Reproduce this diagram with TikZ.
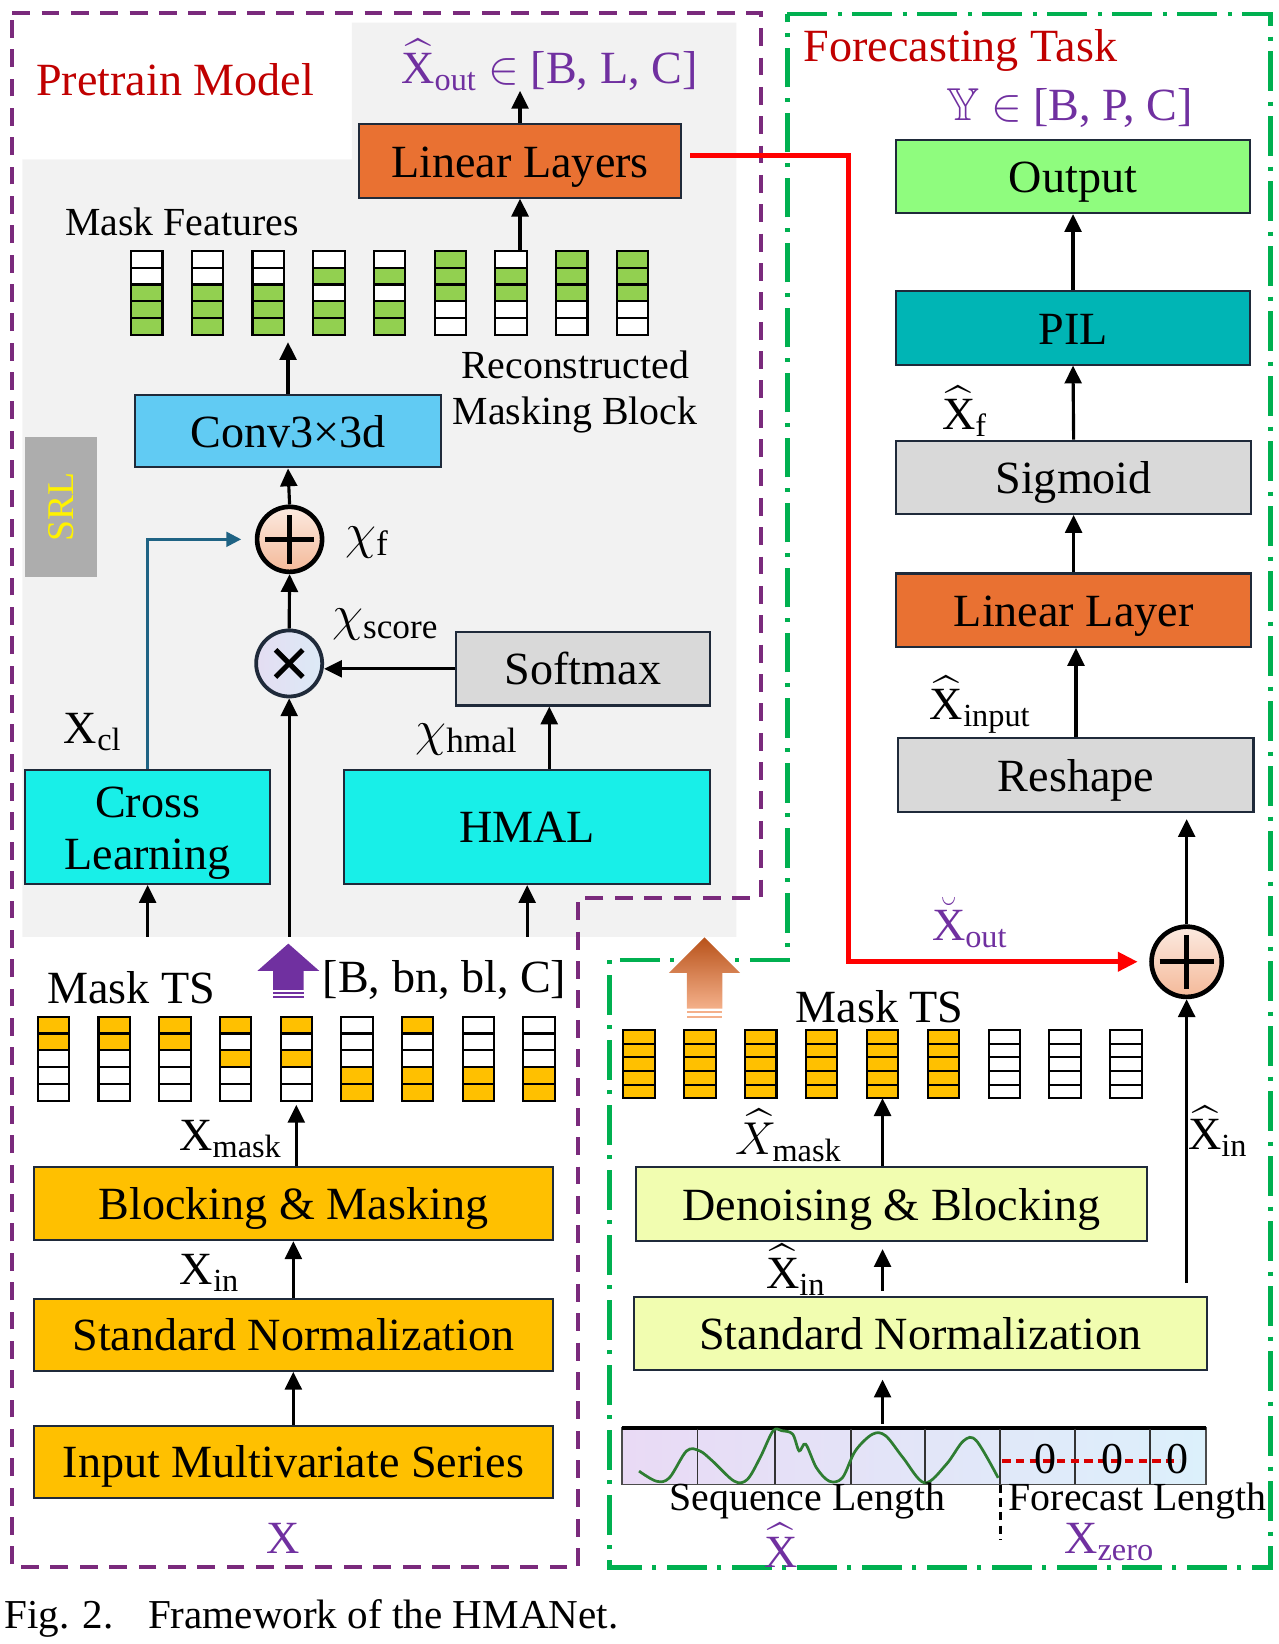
\RequirePackage{fix-cm}
\documentclass[tikz,border=0pt]{standalone}
\usepackage{fontspec}
\setmainfont{Liberation Serif}
\usepackage{amssymb}
\usetikzlibrary{arrows.meta,positioning,calc}

\definecolor{frame}{HTML}{1F2A3A}
\definecolor{mpurple}{HTML}{7030A0}
\definecolor{dashpurple}{HTML}{7A2A7C}
\definecolor{dashgreen}{HTML}{00B050}
\definecolor{titlered}{HTML}{C00000}
\definecolor{orangebox}{HTML}{E97132}
\definecolor{yellowbox}{HTML}{FFC000}
\definecolor{lightyellow}{HTML}{F1FDB0}
\definecolor{cyanbox}{HTML}{18EFE8}
\definecolor{bluebox}{HTML}{61CBF3}
\definecolor{graybox}{HTML}{D9D9D9}
\definecolor{tealbox}{HTML}{00B5B5}
\definecolor{greenbox}{HTML}{8FFC7E}
\definecolor{bggray}{HTML}{F2F2F2}
\definecolor{srlgray}{HTML}{ADADAD}
\definecolor{cellg}{HTML}{92D050}
\definecolor{celly}{HTML}{FFC000}
\definecolor{cellw}{HTML}{FFFFFF}
\definecolor{clline}{HTML}{1F6384}
\definecolor{wavegreen}{HTML}{2E7D32}
\definecolor{peach}{HTML}{F4B999}
\definecolor{lilac}{HTML}{E4DDF2}
\definecolor{paleblue}{HTML}{DCEAF6}
\definecolor{striplilac}{HTML}{E9DAF5}
\definecolor{stripblue}{HTML}{DCF0FB}
\definecolor{arrowdark}{HTML}{B8521A}
\definecolor{arrowlight}{HTML}{F4B08A}

\begin{document}
\begin{tikzpicture}[x=0.5pt, y=-0.5pt,
    blkbase/.style={draw=frame, line width=1pt, minimum height=35pt, inner sep=0pt,
      font=\fontsize{22}{25}\selectfont},
    blk/.style={blkbase, text height=19.8pt, text depth=4.4pt},
    lbl/.style={inner sep=0pt, font=\fontsize{22}{25}\selectfont},
    chilbl/.style={inner sep=0pt, font=\fontsize{24}{26}\selectfont},
    smalltxt/.style={inner sep=0pt, font=\fontsize{19}{22}\selectfont},
    arr/.style={line width=1.5pt, -{Triangle[length=8.5pt,width=8pt]}},
    redarr/.style={draw=red, line width=2.2pt, -{Triangle[length=9.5pt,width=9pt]}},
    clarr/.style={draw=clline, line width=1.2pt, -{Triangle[length=7pt,width=7pt]}},
    fcol/.style={draw=black, line width=1pt, minimum width=15pt, inner sep=0pt, outer sep=0pt},
    cell/.style={draw=black, line width=1pt},
    op/.style={circle, line width=2.2pt, inner sep=0pt},
    opline/.style={line width=2.4pt, shorten <=5pt, shorten >=5pt}
  ]
  \useasboundingbox (0,0) rectangle (1219,1568);

  % gray background of the masking block
  \fill[bggray] (335.6,21.6) -- (702.4,21.6) -- (702.4,893.5) -- (21.4,893.5)
    -- (21.4,152) -- (335.6,152) -- cycle;
  \coordinate (gbot) at (0,893.5);
  \node[fill=srlgray, rotate=90, minimum width=66.5pt, minimum height=34.5pt, inner sep=0pt,
    text=yellow, font=\fontsize{18}{20}\selectfont] (srl) at (58,483.7) {SRL};

  % frames
  \draw[dashpurple, line width=2pt, dash pattern=on 8.5pt off 5.5pt]
    (11.7,12.7) -- (725.5,12.7) -- (725.5,856.8) -- (551.2,856.8) -- (551.2,1494.5)
    -- (11.7,1494.5) -- cycle;
  \draw[dashgreen, line width=2.2pt, dash pattern=on 19pt off 5pt on 2pt off 5pt]
    (751,13.4) -- (1211.5,13.4) -- (1211.5,1495.3) -- (581.4,1495.3) -- (581.4,915.7)
    -- (751,915.7) -- cycle;

  \node[lbl, text=titlered] (ptm) at (167,76.3) {Pretrain Model};
  \node[lbl, text=titlered] (fct) at (916,47.7) {Forecasting Task};

  % pretrain model
  \node[lbl, text=mpurple] (xout) at (524,62) {$\widehat{\mathrm{X}}_{\mathrm{out}}$ $\in$ [B, L, C]};
  \node[blk, fill=orangebox, minimum width=153.4pt] (linl) at (496,153.5) {Linear Layers};
  \node[smalltxt] (mft) at (173.5,212) {Mask Features};
  \foreach \i/\ua/\ub/\uc/\ud/\ue in {1/w/w/g/g/g, 2/w/w/g/g/g, 3/w/w/g/g/g, 4/w/g/w/g/g,
      5/w/g/w/g/g, 6/g/g/g/w/w, 7/w/g/g/w/w, 8/g/g/g/w/w, 9/g/g/g/w/w}{
    \pgfmathsetmacro\cx{140+57.9*(\i-1)}
    \foreach \p [count=\k] in {\ua,\ub,\uc,\ud,\ue}
      \draw[cell, fill=cell\p] (\cx-15,{239.3+16*(\k-1)}) rectangle ++(30,16);
    \node[fcol, minimum height=40pt] (mf\i) at (\cx,279.3) {};
  }
  \node[smalltxt, align=center] (rmb) at (548.5,374) {Reconstructed\\Masking Block};
  \node[blk, fill=bluebox, minimum width=146.2pt, minimum height=34.5pt] (conv) at (274.7,411.3) {Conv3×3d};

  \node[op, draw=black, minimum size=31pt, top color=peach!30, bottom color=peach] (plusl) at (276.2,514.4) {};
  \draw[opline] (plusl.north) -- (plusl.south);
  \draw[opline] (plusl.west) -- (plusl.east);
  \node[chilbl] (chif) at (350,517) {$\chi_{\mathrm{f}}$};

  \node[op, draw=frame, line width=1.8pt, minimum size=31.5pt, left color=lilac, right color=paleblue] (times) at (275.8,632.8) {};
  \draw[line width=2.4pt] ([shift={(-6.5pt,-6.5pt)}]times.center) -- ([shift={(6.5pt,6.5pt)}]times.center);
  \draw[line width=2.4pt] ([shift={(-6.5pt,6.5pt)}]times.center) -- ([shift={(6.5pt,-6.5pt)}]times.center);
  \node[chilbl] (chis) at (367.5,596) {$\chi_{\mathrm{score}}$};

  \node[blk, fill=graybox, minimum width=121.4pt] (soft) at (556,637.9) {Softmax};
  \node[chilbl] (chih) at (445,705) {$\chi_{\mathrm{hmal}}$};
  \node[blk, fill=cyanbox, minimum width=174.5pt, minimum height=54.5pt] (hmal) at (502.8,788.6) {HMAL};
  \node[blkbase, fill=cyanbox, minimum width=116.8pt, minimum height=54.5pt] (cl) at (140.8,788.6) {};
  \node[inner sep=0pt, align=center, font=\fontsize{22}{25}\selectfont] (cltxt) at ([yshift=-3pt]cl.center) {Cross\\Learning};
  \node[lbl] (xcl) at (88.5,698) {$\mathrm{X}_{\mathrm{cl}}$};

  \draw[arr] (linl.north) -- (linl.north |- xout.south);
  \draw[arr] (linl.south |- mf7.north) -- (linl.south);
  \draw[arr, shorten >=3.5pt] (conv.north) -- (conv.north |- mf3.south);
  \draw[arr] (plusl.north) -- (conv.south);
  \draw[arr] (times.north) -- (plusl.south);
  \draw[arr] (soft.west) -- (soft.west -| times.east);
  \draw[arr] ($(hmal.north west)!0.56!(hmal.north east)$) coordinate (hup) -- (hup |- soft.south);
  \draw[clarr, shorten >=6.5pt] (cl.north) |- (plusl.west);
  \draw[arr] (cl.south |- gbot) -- (cl.south);
  \draw[arr] (times.south |- gbot) -- (times.south);
  \draw[arr] (hmal.south |- gbot) -- (hmal.south);

  % block arrows
  \fill[mpurple] (275,900) -- (304.5,926) -- (289.5,926) -- (289.5,944) -- (260.5,944)
    -- (260.5,926) -- (245.5,926) -- cycle;
  \fill[mpurple] (260.5,946.3) rectangle (289.5,948.3);
  \fill[mpurple] (260.5,950) rectangle (289.5,952);
  \shade[top color=arrowdark, bottom color=arrowlight] (672,894) -- (706,928) -- (689,928)
    -- (689,962) -- (655,962) -- (655,928) -- (638,928) -- cycle;
  \fill[arrowlight] (655,964.5) rectangle (689,966.5);
  \fill[arrowlight] (655,969) rectangle (689,971);

  % masking input
  \node[lbl] (mtsl) at (125,942) {Mask TS};
  \node[lbl] (dims) at (424,935) {[B, bn, bl, C]};
  \foreach \i/\ua/\ub/\uc/\ud/\ue in {1/y/y/w/w/w, 2/y/y/w/w/w, 3/y/y/w/w/w, 4/y/w/y/w/w,
      5/y/w/y/w/w, 6/w/w/w/y/y, 7/y/w/w/y/y, 8/w/w/w/y/y, 9/w/w/w/y/y}{
    \pgfmathsetmacro\cx{51+57.9*(\i-1)}
    \foreach \p [count=\k] in {\ua,\ub,\uc,\ud,\ue}
      \draw[cell, fill=cell\p] (\cx-15,{969.7+16*(\k-1)}) rectangle ++(30,16);
    \node[fcol, minimum height=40pt] (ml\i) at (\cx,1009.7) {};
  }
  \node[lbl] (xmask) at (220,1086) {$\mathrm{X}_{\mathrm{mask}}$};
  \node[blk, fill=yellowbox, minimum width=247.7pt] (bm) at (279.8,1147.8) {Blocking \& Masking};
  \node[lbl] (xin) at (200,1214) {$\mathrm{X}_{\mathrm{in}}$};
  \node[blk, fill=yellowbox, minimum width=247.7pt, minimum height=34.4pt] (sn) at (279.8,1273) {Standard Normalization};
  \node[blk, fill=yellowbox, minimum width=247.7pt, minimum height=34.4pt] (ims) at (279.8,1394.2) {Input Multivariate Series};
  \node[lbl, text=mpurple] (xx) at (270,1467) {X};

  \draw[arr, shorten >=2pt] (ml5 |- bm.north) -- (ml5.south);
  \draw[arr] (sn.north) -- (bm.south);
  \draw[arr] (ims.north) -- (sn.south);

  % forecasting task
  \node[lbl, text=mpurple] (yout) at (1020,103) {$\mathbb{Y}$ $\in$ [B, P, C]};
  \node[blk, fill=greenbox, minimum width=169.2pt] (outb) at (1023.4,168.2) {Output};
  \node[blk, fill=tealbox, minimum width=169.2pt] (pil) at (1023.4,312.7) {PIL};
  \node[lbl] (xf) at (920,392) {$\widehat{\mathrm{X}}_{\mathrm{f}}$};
  \node[blk, fill=graybox, minimum width=169.4pt] (sig) at (1024,455.2) {Sigmoid};
  \node[blk, fill=orangebox, minimum width=169.4pt] (lin) at (1024,582) {Linear Layer};
  \node[lbl] (xinput) at (935,672) {$\widehat{\mathrm{X}}_{\mathrm{input}}$};
  \node[blk, fill=graybox, minimum width=169.3pt] (resh) at (1026.2,739.2) {Reshape};
  \node[lbl, text=mpurple] (xbout) at (925,880) {$\breve{\mathrm{X}}_{\mathrm{out}}$};
  \node[op, draw=black, minimum size=33.5pt, top color=peach!30, bottom color=peach] (plusr) at (1131.8,917.3) {};
  \draw[opline] (plusr.north) -- (plusr.south);
  \draw[opline] (plusr.west) -- (plusr.east);

  \node[lbl] (mtsr) at (839,960) {Mask TS};
  \foreach \i/\p in {1/y, 2/y, 3/y, 4/y, 5/y, 6/y, 7/w, 8/w, 9/w}{
    \pgfmathsetmacro\cx{609.5+58.06*(\i-1)}
    \foreach \k in {1,...,5}
      \draw[cell, fill=cell\p] (\cx-15,{982.4+13*(\k-1)}) rectangle ++(30,13);
    \node[fcol, minimum height=32.5pt] (mr\i) at (\cx,1014.9) {};
  }
  \node[lbl] (xmaskr) at (752,1083) {$\widehat{X}_{\mathrm{mask}}$};
  \node[blk, fill=lightyellow, minimum width=243.9pt] (db) at (850.1,1148.4) {Denoising \& Blocking};
  \node[lbl] (xinr) at (759,1211) {$\widehat{\mathrm{X}}_{\mathrm{in}}$};
  \node[blk, fill=lightyellow, minimum width=273.3pt, minimum height=34.7pt] (snr) at (877.7,1272.1) {Standard Normalization};
  \node[lbl] (xinskip) at (1161.6,1079) {$\widehat{\mathrm{X}}_{\mathrm{in}}$};

  % input series strip
  \node[draw=black!70, line width=0.8pt, minimum width=278.5pt, minimum height=27pt, inner sep=0pt,
    outer sep=0pt, left color=striplilac, right color=stripblue] (strip) at (871.5,1389) {};
  \draw[line width=1.8pt] (strip.north west) -- (strip.north east);
  \foreach \x in {665.2,739.5,811.7,882.6,954,1025.4,1097.2}
    \draw[line width=0.9pt, black!80] (\x,1362.5) -- (\x,1415.5);
  \draw[wavegreen, line width=1.3pt] plot[smooth, tension=0.55] coordinates {
    (609.5,1403.1) (626,1412.7) (638.4,1409.5) (654.9,1383.8) (667.3,1383.8) (679.6,1393.5)
    (700.3,1412.7) (712.7,1411.1) (725,1390.2) (737.4,1364.6) (745.7,1364.6) (756,1367.8)
    (762.2,1383.8) (768.4,1377.4) (778.7,1399.9) (791,1412.7) (803.4,1409.5) (815.8,1383.8)
    (832.3,1367.8) (844.7,1369.4) (861.2,1390.2) (881.8,1414.3) (902.5,1396.7) (919,1374.2)
    (931.3,1374.2) (952,1409.5)};
  \draw[red!85!black, line width=1.5pt, dash pattern=on 4pt off 2.5pt] (956,1393.5) -- (1125,1393.5);
  \foreach \x/\n in {997/1, 1061/2, 1123/3}
    \node[inner sep=0pt, font=\fontsize{21}{23}\selectfont] (zero\n) at (\x,1392) {0};
  \draw[line width=1.5pt, dash pattern=on 4pt off 2.5pt] (954,1416) -- (954,1469);
  \node[smalltxt] (seql) at (770,1432) {Sequence Length};
  \node[smalltxt] (fcl) at (1085,1432) {Forecast Length};
  \node[lbl, text=mpurple] (xhat) at (744.7,1474) {$\widehat{\mathrm{X}}$};
  \node[lbl, text=mpurple] (xzero) at (1058,1470.5) {$\mathrm{X}_{\mathrm{zero}}$};

  \draw[arr] (pil.north) -- (outb.south);
  \draw[arr] (sig.north) -- (pil.south);
  \draw[arr] (lin.north) -- (sig.south);
  \draw[arr] (resh.north) -- (resh.north |- lin.south);
  \draw[arr, shorten >=3pt] (plusr.north) -- (plusr.north |- resh.south);
  \coordinate (rturn) at (809.5,148.5);
  \draw[redarr, shorten <=4pt, shorten >=5.5pt] ([yshift=2.5pt]linl.east) -- ([yshift=2.5pt]linl.east -| rturn) |- (plusr.west);
  \draw[arr, shorten <=6.5pt] (plusr.south |- snr.north) -- (plusr.south);
  \draw[arr] (mr5 |- db.north) -- (mr5.south);
  \draw[arr, shorten <=2.5pt, shorten >=3.5pt] (mr5 |- snr.north) -- (mr5 |- db.south);
  \draw[arr, shorten <=2pt, shorten >=4pt] (mr5 |- strip.north) -- (mr5 |- snr.south);

  \node[inner sep=0pt, anchor=west, font=\fontsize{19.6}{22}\selectfont] (cap) at (3.6,1544)
    {Fig. 2.\hspace{0.5em} Framework of the HMANet.};
\end{tikzpicture}
\end{document}
